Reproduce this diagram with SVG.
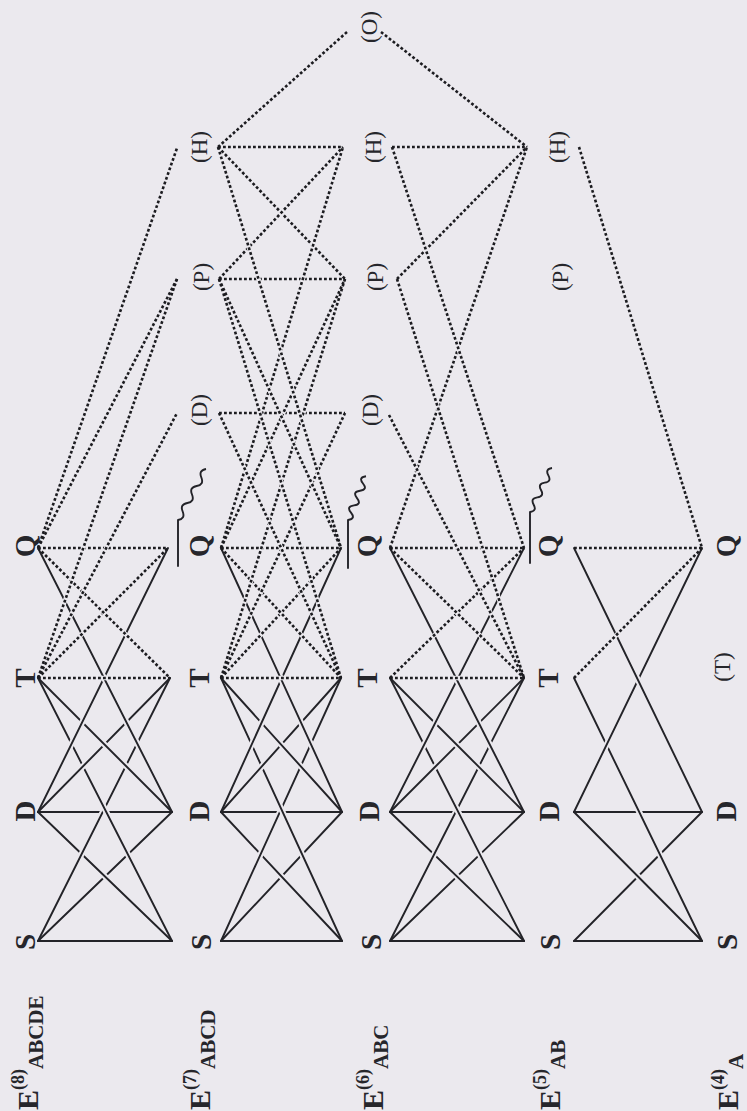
<svg xmlns="http://www.w3.org/2000/svg" width="747" height="1111" viewBox="0 0 747 1111">
<style>
.bg{fill:#ebe9ee}
.s{stroke:#232328;stroke-width:1.9;fill:none;stroke-linecap:round}
.d{stroke:#1c1c20;stroke-width:2.6;stroke-dasharray:2.8 2.2;fill:none}
.h{stroke:#ebe9ee;stroke-width:6;stroke-dasharray:0 14 72 100;fill:none}
.hd{stroke:#ebe9ee;stroke-width:4.5;stroke-dasharray:0 14 72 100;fill:none}
text{font-family:"Liberation Serif","Times New Roman",serif;fill:#26262b}
.b{font-weight:bold;font-size:29px}
.p{font-size:23px}
.e{font-weight:bold;font-size:30px}
.sq{stroke:#232328;stroke-width:1.9;fill:none}
</style>
<rect class="bg" x="0" y="0" width="747" height="1111"/>
<g id="connectors">
<line class="h" pathLength="100" x1="38" y1="941" x2="172" y2="941"/><line class="s" x1="38" y1="941" x2="172" y2="941"/>
<line class="h" pathLength="100" x1="38" y1="812" x2="172" y2="812"/><line class="s" x1="38" y1="812" x2="172" y2="812"/>
<line class="h" pathLength="100" x1="38" y1="941" x2="172" y2="812"/><line class="s" x1="38" y1="941" x2="172" y2="812"/>
<line class="h" pathLength="100" x1="38" y1="812" x2="172" y2="941"/><line class="s" x1="38" y1="812" x2="172" y2="941"/>
<line class="h" pathLength="100" x1="38" y1="941" x2="170" y2="678"/><line class="s" x1="38" y1="941" x2="170" y2="678"/>
<line class="h" pathLength="100" x1="38" y1="678" x2="172" y2="941"/><line class="s" x1="38" y1="678" x2="172" y2="941"/>
<line class="h" pathLength="100" x1="38" y1="812" x2="170" y2="678"/><line class="s" x1="38" y1="812" x2="170" y2="678"/>
<line class="h" pathLength="100" x1="38" y1="678" x2="172" y2="812"/><line class="s" x1="38" y1="678" x2="172" y2="812"/>
<line class="h" pathLength="100" x1="38" y1="812" x2="168" y2="548"/><line class="s" x1="38" y1="812" x2="168" y2="548"/>
<line class="h" pathLength="100" x1="38" y1="548" x2="172" y2="812"/><line class="s" x1="38" y1="548" x2="172" y2="812"/>
<line class="h" pathLength="100" x1="221" y1="941" x2="342" y2="941"/><line class="s" x1="221" y1="941" x2="342" y2="941"/>
<line class="h" pathLength="100" x1="221" y1="812" x2="342" y2="812"/><line class="s" x1="221" y1="812" x2="342" y2="812"/>
<line class="h" pathLength="100" x1="221" y1="941" x2="342" y2="812"/><line class="s" x1="221" y1="941" x2="342" y2="812"/>
<line class="h" pathLength="100" x1="221" y1="812" x2="342" y2="941"/><line class="s" x1="221" y1="812" x2="342" y2="941"/>
<line class="h" pathLength="100" x1="221" y1="941" x2="341" y2="678"/><line class="s" x1="221" y1="941" x2="341" y2="678"/>
<line class="h" pathLength="100" x1="221" y1="678" x2="342" y2="941"/><line class="s" x1="221" y1="678" x2="342" y2="941"/>
<line class="h" pathLength="100" x1="221" y1="812" x2="341" y2="678"/><line class="s" x1="221" y1="812" x2="341" y2="678"/>
<line class="h" pathLength="100" x1="221" y1="678" x2="342" y2="812"/><line class="s" x1="221" y1="678" x2="342" y2="812"/>
<line class="h" pathLength="100" x1="221" y1="812" x2="341" y2="548"/><line class="s" x1="221" y1="812" x2="341" y2="548"/>
<line class="h" pathLength="100" x1="221" y1="548" x2="342" y2="812"/><line class="s" x1="221" y1="548" x2="342" y2="812"/>
<line class="h" pathLength="100" x1="390" y1="941" x2="524" y2="941"/><line class="s" x1="390" y1="941" x2="524" y2="941"/>
<line class="h" pathLength="100" x1="390" y1="812" x2="524" y2="812"/><line class="s" x1="390" y1="812" x2="524" y2="812"/>
<line class="h" pathLength="100" x1="390" y1="941" x2="524" y2="812"/><line class="s" x1="390" y1="941" x2="524" y2="812"/>
<line class="h" pathLength="100" x1="390" y1="812" x2="524" y2="941"/><line class="s" x1="390" y1="812" x2="524" y2="941"/>
<line class="h" pathLength="100" x1="390" y1="941" x2="524" y2="678"/><line class="s" x1="390" y1="941" x2="524" y2="678"/>
<line class="h" pathLength="100" x1="390" y1="678" x2="524" y2="941"/><line class="s" x1="390" y1="678" x2="524" y2="941"/>
<line class="h" pathLength="100" x1="390" y1="812" x2="524" y2="678"/><line class="s" x1="390" y1="812" x2="524" y2="678"/>
<line class="h" pathLength="100" x1="390" y1="678" x2="524" y2="812"/><line class="s" x1="390" y1="678" x2="524" y2="812"/>
<line class="h" pathLength="100" x1="390" y1="812" x2="524" y2="548"/><line class="s" x1="390" y1="812" x2="524" y2="548"/>
<line class="h" pathLength="100" x1="390" y1="548" x2="524" y2="812"/><line class="s" x1="390" y1="548" x2="524" y2="812"/>
<line class="h" pathLength="100" x1="574" y1="941" x2="702" y2="941"/><line class="s" x1="574" y1="941" x2="702" y2="941"/>
<line class="h" pathLength="100" x1="574" y1="812" x2="702" y2="812"/><line class="s" x1="574" y1="812" x2="702" y2="812"/>
<line class="h" pathLength="100" x1="574" y1="941" x2="702" y2="812"/><line class="s" x1="574" y1="941" x2="702" y2="812"/>
<line class="h" pathLength="100" x1="574" y1="812" x2="702" y2="941"/><line class="s" x1="574" y1="812" x2="702" y2="941"/>
<line class="h" pathLength="100" x1="574" y1="678" x2="702" y2="941"/><line class="s" x1="574" y1="678" x2="702" y2="941"/>
<line class="h" pathLength="100" x1="574" y1="812" x2="702" y2="548"/><line class="s" x1="574" y1="812" x2="702" y2="548"/>
<line class="h" pathLength="100" x1="574" y1="548" x2="702" y2="812"/><line class="s" x1="574" y1="548" x2="702" y2="812"/>
<line class="hd" pathLength="100" x1="38" y1="678" x2="170" y2="678"/><line class="d" x1="38" y1="678" x2="170" y2="678"/>
<line class="hd" pathLength="100" x1="38" y1="548" x2="168" y2="548"/><line class="d" x1="38" y1="548" x2="168" y2="548"/>
<line class="hd" pathLength="100" x1="38" y1="678" x2="168" y2="548"/><line class="d" x1="38" y1="678" x2="168" y2="548"/>
<line class="hd" pathLength="100" x1="38" y1="548" x2="170" y2="678"/><line class="d" x1="38" y1="548" x2="170" y2="678"/>
<line class="hd" pathLength="100" x1="38" y1="678" x2="177" y2="413"/><line class="d" x1="38" y1="678" x2="177" y2="413"/>
<line class="hd" pathLength="100" x1="38" y1="678" x2="177" y2="279"/><line class="d" x1="38" y1="678" x2="177" y2="279"/>
<line class="hd" pathLength="100" x1="38" y1="548" x2="177" y2="279"/><line class="d" x1="38" y1="548" x2="177" y2="279"/>
<line class="hd" pathLength="100" x1="38" y1="548" x2="177" y2="148"/><line class="d" x1="38" y1="548" x2="177" y2="148"/>
<line class="hd" pathLength="100" x1="221" y1="678" x2="341" y2="678"/><line class="d" x1="221" y1="678" x2="341" y2="678"/>
<line class="hd" pathLength="100" x1="221" y1="548" x2="341" y2="548"/><line class="d" x1="221" y1="548" x2="341" y2="548"/>
<line class="hd" pathLength="100" x1="221" y1="678" x2="341" y2="548"/><line class="d" x1="221" y1="678" x2="341" y2="548"/>
<line class="hd" pathLength="100" x1="221" y1="548" x2="341" y2="678"/><line class="d" x1="221" y1="548" x2="341" y2="678"/>
<line class="hd" pathLength="100" x1="219" y1="413" x2="345" y2="413"/><line class="d" x1="219" y1="413" x2="345" y2="413"/>
<line class="hd" pathLength="100" x1="219" y1="279" x2="345" y2="279"/><line class="d" x1="219" y1="279" x2="345" y2="279"/>
<line class="hd" pathLength="100" x1="218" y1="147" x2="343" y2="147"/><line class="d" x1="218" y1="147" x2="343" y2="147"/>
<line class="hd" pathLength="100" x1="218" y1="147" x2="347" y2="32"/><line class="d" x1="218" y1="147" x2="347" y2="32"/>
<line class="hd" pathLength="100" x1="218" y1="147" x2="345" y2="279"/><line class="d" x1="218" y1="147" x2="345" y2="279"/>
<line class="hd" pathLength="100" x1="219" y1="279" x2="343" y2="147"/><line class="d" x1="219" y1="279" x2="343" y2="147"/>
<line class="hd" pathLength="100" x1="221" y1="678" x2="345" y2="413"/><line class="d" x1="221" y1="678" x2="345" y2="413"/>
<line class="hd" pathLength="100" x1="221" y1="678" x2="345" y2="279"/><line class="d" x1="221" y1="678" x2="345" y2="279"/>
<line class="hd" pathLength="100" x1="221" y1="548" x2="345" y2="279"/><line class="d" x1="221" y1="548" x2="345" y2="279"/>
<line class="hd" pathLength="100" x1="221" y1="548" x2="343" y2="147"/><line class="d" x1="221" y1="548" x2="343" y2="147"/>
<line class="hd" pathLength="100" x1="219" y1="413" x2="341" y2="678"/><line class="d" x1="219" y1="413" x2="341" y2="678"/>
<line class="hd" pathLength="100" x1="219" y1="279" x2="341" y2="678"/><line class="d" x1="219" y1="279" x2="341" y2="678"/>
<line class="hd" pathLength="100" x1="219" y1="279" x2="341" y2="548"/><line class="d" x1="219" y1="279" x2="341" y2="548"/>
<line class="hd" pathLength="100" x1="218" y1="147" x2="341" y2="548"/><line class="d" x1="218" y1="147" x2="341" y2="548"/>
<line class="hd" pathLength="100" x1="390" y1="678" x2="524" y2="678"/><line class="d" x1="390" y1="678" x2="524" y2="678"/>
<line class="hd" pathLength="100" x1="390" y1="548" x2="524" y2="548"/><line class="d" x1="390" y1="548" x2="524" y2="548"/>
<line class="hd" pathLength="100" x1="390" y1="678" x2="524" y2="548"/><line class="d" x1="390" y1="678" x2="524" y2="548"/>
<line class="hd" pathLength="100" x1="390" y1="548" x2="524" y2="678"/><line class="d" x1="390" y1="548" x2="524" y2="678"/>
<line class="hd" pathLength="100" x1="392" y1="147" x2="527" y2="147"/><line class="d" x1="392" y1="147" x2="527" y2="147"/>
<line class="hd" pathLength="100" x1="381" y1="32" x2="527" y2="147"/><line class="d" x1="381" y1="32" x2="527" y2="147"/>
<line class="hd" pathLength="100" x1="397" y1="279" x2="527" y2="147"/><line class="d" x1="397" y1="279" x2="527" y2="147"/>
<line class="hd" pathLength="100" x1="390" y1="548" x2="527" y2="147"/><line class="d" x1="390" y1="548" x2="527" y2="147"/>
<line class="hd" pathLength="100" x1="392" y1="147" x2="524" y2="548"/><line class="d" x1="392" y1="147" x2="524" y2="548"/>
<line class="hd" pathLength="100" x1="389" y1="415" x2="524" y2="678"/><line class="d" x1="389" y1="415" x2="524" y2="678"/>
<line class="hd" pathLength="100" x1="397" y1="279" x2="524" y2="678"/><line class="d" x1="397" y1="279" x2="524" y2="678"/>
<line class="hd" pathLength="100" x1="574" y1="548" x2="702" y2="548"/><line class="d" x1="574" y1="548" x2="702" y2="548"/>
<line class="hd" pathLength="100" x1="574" y1="678" x2="702" y2="548"/><line class="d" x1="574" y1="678" x2="702" y2="548"/>
<line class="hd" pathLength="100" x1="579" y1="147" x2="702" y2="548"/><line class="d" x1="579" y1="147" x2="702" y2="548"/>
</g>
<g id="level-labels">
<text id="lbl-e8" class="e" transform="translate(38,1110) rotate(-90)">E<tspan font-size="18" dy="-14">(8)</tspan><tspan font-size="21" dy="19">ABCDE</tspan></text>
<text id="lbl-e7" class="e" transform="translate(210,1110) rotate(-90)">E<tspan font-size="18" dy="-14">(7)</tspan><tspan font-size="21" dy="19">ABCD</tspan></text>
<text id="lbl-e6" class="e" transform="translate(383,1110) rotate(-90)">E<tspan font-size="18" dy="-14">(6)</tspan><tspan font-size="21" dy="19">ABC</tspan></text>
<text id="lbl-e5" class="e" transform="translate(560,1110) rotate(-90)">E<tspan font-size="18" dy="-14">(5)</tspan><tspan font-size="21" dy="19">AB</tspan></text>
<text id="lbl-e4" class="e" transform="translate(738,1110) rotate(-90)">E<tspan font-size="18" dy="-14">(4)</tspan><tspan font-size="21" dy="19">A</tspan></text>
</g>
<g id="e8-S"><text class="b" text-anchor="middle" transform="translate(35,942) rotate(-90)">S</text></g>
<g id="e8-D"><text class="b" text-anchor="middle" transform="translate(35,811) rotate(-90)">D</text></g>
<g id="e8-T"><text class="b" text-anchor="middle" transform="translate(35,678) rotate(-90)">T</text></g>
<g id="e8-Q"><text class="b" text-anchor="middle" transform="translate(35,546) rotate(-90)">Q</text></g>
<g id="e7-S"><text class="b" text-anchor="middle" transform="translate(211,942) rotate(-90)">S</text></g>
<g id="e7-D"><text class="b" text-anchor="middle" transform="translate(209,811) rotate(-90)">D</text></g>
<g id="e7-T"><text class="b" text-anchor="middle" transform="translate(209,678) rotate(-90)">T</text></g>
<g id="e7-Q"><text class="b" text-anchor="middle" transform="translate(209,546) rotate(-90)">Q</text><line class="s" x1="178" y1="566" x2="178" y2="520"/><path class="sq" d="M178,520 q7.6,-1.35 4.67,-8.5 q-3,-7.15 4.67,-8.5 q7.6,-1.35 4.67,-8.5 q-3,-7.15 4.67,-8.5 q7.6,-1.35 4.67,-8.5 q-3,-7.15 4.67,-8.5"/></g>
<g id="e7-pD"><text class="p" text-anchor="middle" transform="translate(207,410) rotate(-90)">(D)</text></g>
<g id="e7-pP"><text class="p" text-anchor="middle" transform="translate(209,277) rotate(-90)">(P)</text></g>
<g id="e7-pH"><text class="p" text-anchor="middle" transform="translate(207,147) rotate(-90)">(H)</text></g>
<g id="e6-S"><text class="b" text-anchor="middle" transform="translate(381,942) rotate(-90)">S</text></g>
<g id="e6-D"><text class="b" text-anchor="middle" transform="translate(379,811) rotate(-90)">D</text></g>
<g id="e6-T"><text class="b" text-anchor="middle" transform="translate(377,678) rotate(-90)">T</text></g>
<g id="e6-Q"><text class="b" text-anchor="middle" transform="translate(377,546) rotate(-90)">Q</text><line class="s" x1="348" y1="568" x2="348" y2="520"/><path class="sq" d="M348,520 q8,-1 3,-7.3 q-5,-6.3 3,-7.3 q8,-1 3,-7.3 q-5,-6.3 3,-7.3 q8,-1 3,-7.3 q-5,-6.3 3,-7.3"/></g>
<g id="e6-pD"><text class="p" text-anchor="middle" transform="translate(378,410) rotate(-90)">(D)</text></g>
<g id="e6-pP"><text class="p" text-anchor="middle" transform="translate(383,277) rotate(-90)">(P)</text></g>
<g id="e6-pH"><text class="p" text-anchor="middle" transform="translate(381,147) rotate(-90)">(H)</text></g>
<g id="e6-pO"><text class="p" text-anchor="middle" transform="translate(377,27) rotate(-90)">(O)</text></g>
<g id="e5-S"><text class="b" text-anchor="middle" transform="translate(560,942) rotate(-90)">S</text></g>
<g id="e5-D"><text class="b" text-anchor="middle" transform="translate(559,811) rotate(-90)">D</text></g>
<g id="e5-T"><text class="b" text-anchor="middle" transform="translate(558,678) rotate(-90)">T</text></g>
<g id="e5-Q"><text class="b" text-anchor="middle" transform="translate(558,546) rotate(-90)">Q</text><line class="s" x1="530" y1="563" x2="530" y2="512"/><path class="sq" d="M530,512 q7.2,-0.97 3.67,-7.33 q-3.5,-6.4 3.67,-7.33 q7.2,-0.97 3.67,-7.33 q-3.5,-6.4 3.67,-7.33 q7.2,-0.97 3.67,-7.33 q-3.5,-6.4 3.67,-7.33"/></g>
<g id="e5-pP"><text class="p" text-anchor="middle" transform="translate(568,277) rotate(-90)">(P)</text></g>
<g id="e5-pH"><text class="p" text-anchor="middle" transform="translate(565,147) rotate(-90)">(H)</text></g>
<g id="e4-S"><text class="b" text-anchor="middle" transform="translate(737,942) rotate(-90)">S</text></g>
<g id="e4-D"><text class="b" text-anchor="middle" transform="translate(736,811) rotate(-90)">D</text></g>
<g id="e4-pT"><text class="p" text-anchor="middle" transform="translate(730,667) rotate(-90)">(T)</text></g>
<g id="e4-Q"><text class="b" text-anchor="middle" transform="translate(736,546) rotate(-90)">Q</text></g>
</svg>
